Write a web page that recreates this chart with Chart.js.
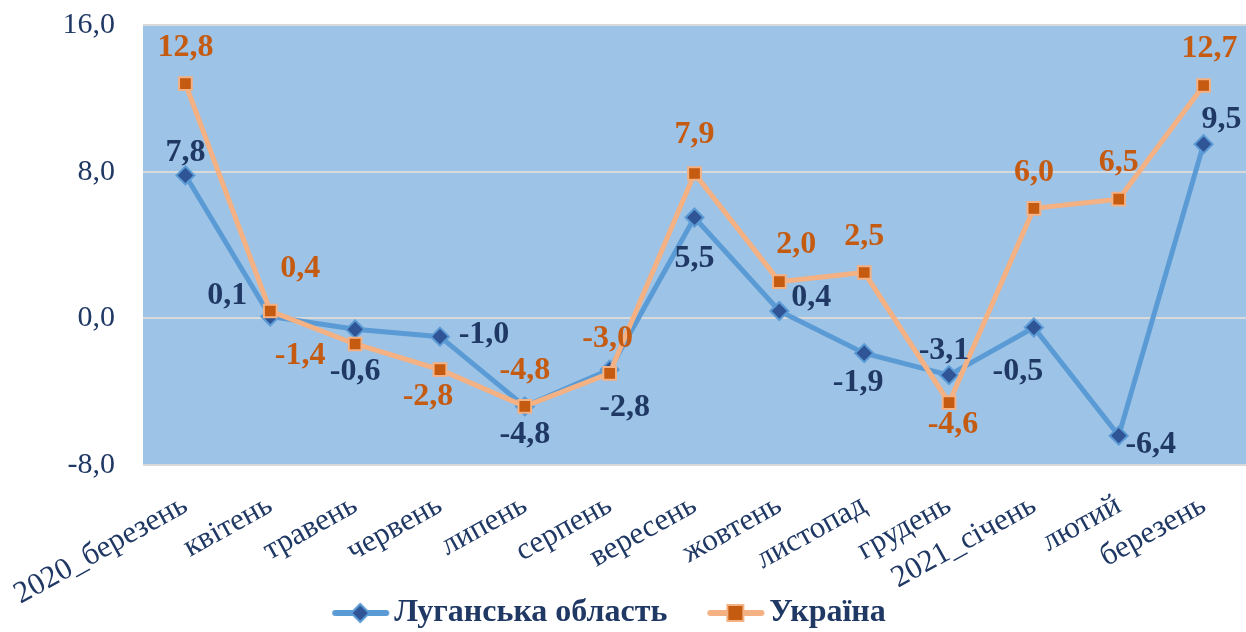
<!DOCTYPE html>
<html>
<head>
<meta charset="utf-8">
<script src="https://cdn.jsdelivr.net/npm/chart.js@4"></script>
<style>
  body { margin: 0; background: #fff; overflow: hidden; }
  #wrap { width: 1246px; height: 632px; }
  canvas { display: block; }
</style>
</head>
<body>
<div id="wrap"><canvas id="myChart"></canvas></div>
<script>
// months
const labels = ['2020_березень', 'квітень', 'травень', 'червень', 'липень', 'серпень', 'вересень',
    'жовтень', 'листопад', 'грудень', '2021_січень', 'лютий', 'березень']
const luhansk = [7.8, 0.1, -0.6, -1.0, -4.8, -2.8, 5.5, 0.4, -1.9, -3.1, -0.5, -6.4, 9.5]
const ukraine = [12.8, 0.4, -1.4, -2.8, -4.8, -3.0, 7.9, 2.0, 2.5, -4.6, 6.0, 6.5, 12.7]
const yTicks = [-8, 0, 8, 16]

// where each value label sits relative to its point (dx, dy)
const luhanskLabelPos = [[0, -23], [-43, -21], [0, 42], [44, -2], [0, 28], [15, 38], [0, 41],
    [32, -13], [-6, 30], [-5, -24], [-16, 44], [32, 9], [18, -24]]
const ukraineLabelPos = [[0, -36], [30, -42], [-55, 12], [-12, 27], [0, -36], [-2, -35], [0, -39],
    [17, -37], [0, -36], [4, 22], [0, -36], [0, -36], [6, -37]]

const navy = '#1F3864'
const orange = '#C55A11'
const fontFamily = '"Liberation Serif", "Times New Roman", serif'

const fmt = (v) => v.toFixed(1).replace('.', ',')

// legend icon: blank lead-in (item spacing), then line with marker
function legendIcon(lineColor, style, fill, border) {
    const c = document.createElement('canvas')
    c.width = 110
    c.height = 22
    const g = c.getContext('2d')
    g.strokeStyle = lineColor
    g.lineWidth = 6
    g.lineCap = 'round'
    g.beginPath()
    g.moveTo(53, 11)
    g.lineTo(104, 11)
    g.stroke()
    g.fillStyle = fill
    g.strokeStyle = border
    g.lineWidth = 2
    g.beginPath()
    if (style === 'diamond') {
        g.moveTo(78, 2); g.lineTo(87, 11); g.lineTo(78, 20); g.lineTo(69, 11); g.closePath()
    } else {
        g.rect(70, 3, 16, 16)
    }
    g.fill()
    g.stroke()
    return c
}

const plotBg = {
    id: 'plotBg',
    beforeDraw(chart) {
        const a = chart.chartArea
        const c = chart.ctx
        c.save()
        c.fillStyle = '#9DC3E6'
        c.fillRect(a.left, a.top, a.right - a.left, a.bottom - a.top)
        c.restore()
    }
}

const valueLabels = {
    id: 'valueLabels',
    afterDatasetsDraw(chart) {
        const c = chart.ctx
        c.save()
        c.font = 'bold 32px ' + fontFamily
        c.textAlign = 'center'
        c.textBaseline = 'middle'
        chart.data.datasets.forEach((ds, di) => {
            const meta = chart.getDatasetMeta(di)
            const pos = di === 0 ? luhanskLabelPos : ukraineLabelPos
            c.fillStyle = di === 0 ? navy : orange
            meta.data.forEach((pt, i) => {
                c.fillText(fmt(ds.data[i]), pt.x + pos[i][0], pt.y + pos[i][1])
            })
        })
        c.restore()
    }
}

const data = {
    labels: labels,
    datasets: [{
        label: 'Луганська область',
        data: luhansk,
        borderColor: '#5B9BD5',
        borderWidth: 5,
        pointStyle: 'rectRot',
        pointRadius: 9,
        pointBackgroundColor: '#2F5597',
        pointBorderColor: '#5B9BD5',
        pointBorderWidth: 2,
        tension: 0,
        order: 1
    }, {
        label: 'Україна',
        data: ukraine,
        borderColor: '#F4B183',
        borderWidth: 5,
        pointStyle: 'rect',
        pointRadius: 9,
        pointBackgroundColor: orange,
        pointBorderColor: '#F4B183',
        pointBorderWidth: 2,
        tension: 0,
        order: 0
    }]
}

const icons = [
    legendIcon('#5B9BD5', 'diamond', '#2F5597', '#5B9BD5'),
    legendIcon('#F4B183', 'square', orange, '#F4B183')
]
// the original legend sits a little left of centre
const legendTail = ['', '\u00A0'.repeat(8)]

const config = {
    type: 'line',
    data: data,
    plugins: [plotBg, valueLabels],
    options: {
        responsive: true,
        maintainAspectRatio: false,
        animation: false,
        layout: { autoPadding: false, padding: { top: 25, left: 0, right: 0, bottom: -7 } },
        scales: {
            x: {
                offset: true,
                grid: { display: false },
                border: { display: false },
                afterFit: (scale) => {
                    scale.height = 128
                    scale.paddingLeft = 0
                    scale.paddingRight = 0
                    // let the slanted labels run into the legend band, as in the original
                    scale._computeLabelArea = () => undefined
                },
                ticks: {
                    color: navy,
                    font: { family: fontFamily, size: 31 },
                    minRotation: 29,
                    maxRotation: 29,
                    padding: 14,
                    autoSkip: false
                }
            },
            y: {
                min: -8,
                max: 16,
                afterBuildTicks: (scale) => { scale.ticks = yTicks.map(v => ({ value: v })) },
                afterFit: (scale) => {
                    scale.width = 143
                    scale.paddingTop = 0
                    scale.paddingBottom = 0
                },
                grid: { color: '#D9D9D9', lineWidth: 2, drawTicks: false },
                border: { display: false },
                ticks: {
                    color: navy,
                    font: { family: fontFamily, size: 30 },
                    padding: 28,
                    callback: (v) => fmt(v)
                }
            }
        },
        plugins: {
            tooltip: { enabled: false },
            legend: {
                position: 'bottom',
                labels: {
                    color: navy,
                    font: { family: fontFamily, size: 32, weight: 'bold' },
                    usePointStyle: true,
                    pointStyleWidth: 82,
                    padding: 4,
                    generateLabels: (chart) => chart.data.datasets.map((ds, i) => ({
                        text: ds.label + legendTail[i],
                        fontColor: navy,
                        pointStyle: icons[i],
                        datasetIndex: i,
                        lineWidth: 0,
                        strokeStyle: 'transparent',
                        fillStyle: 'transparent'
                    }))
                }
            }
        }
    }
}

const chart = new Chart(document.getElementById('myChart'), config)
</script>
</body>
</html>
